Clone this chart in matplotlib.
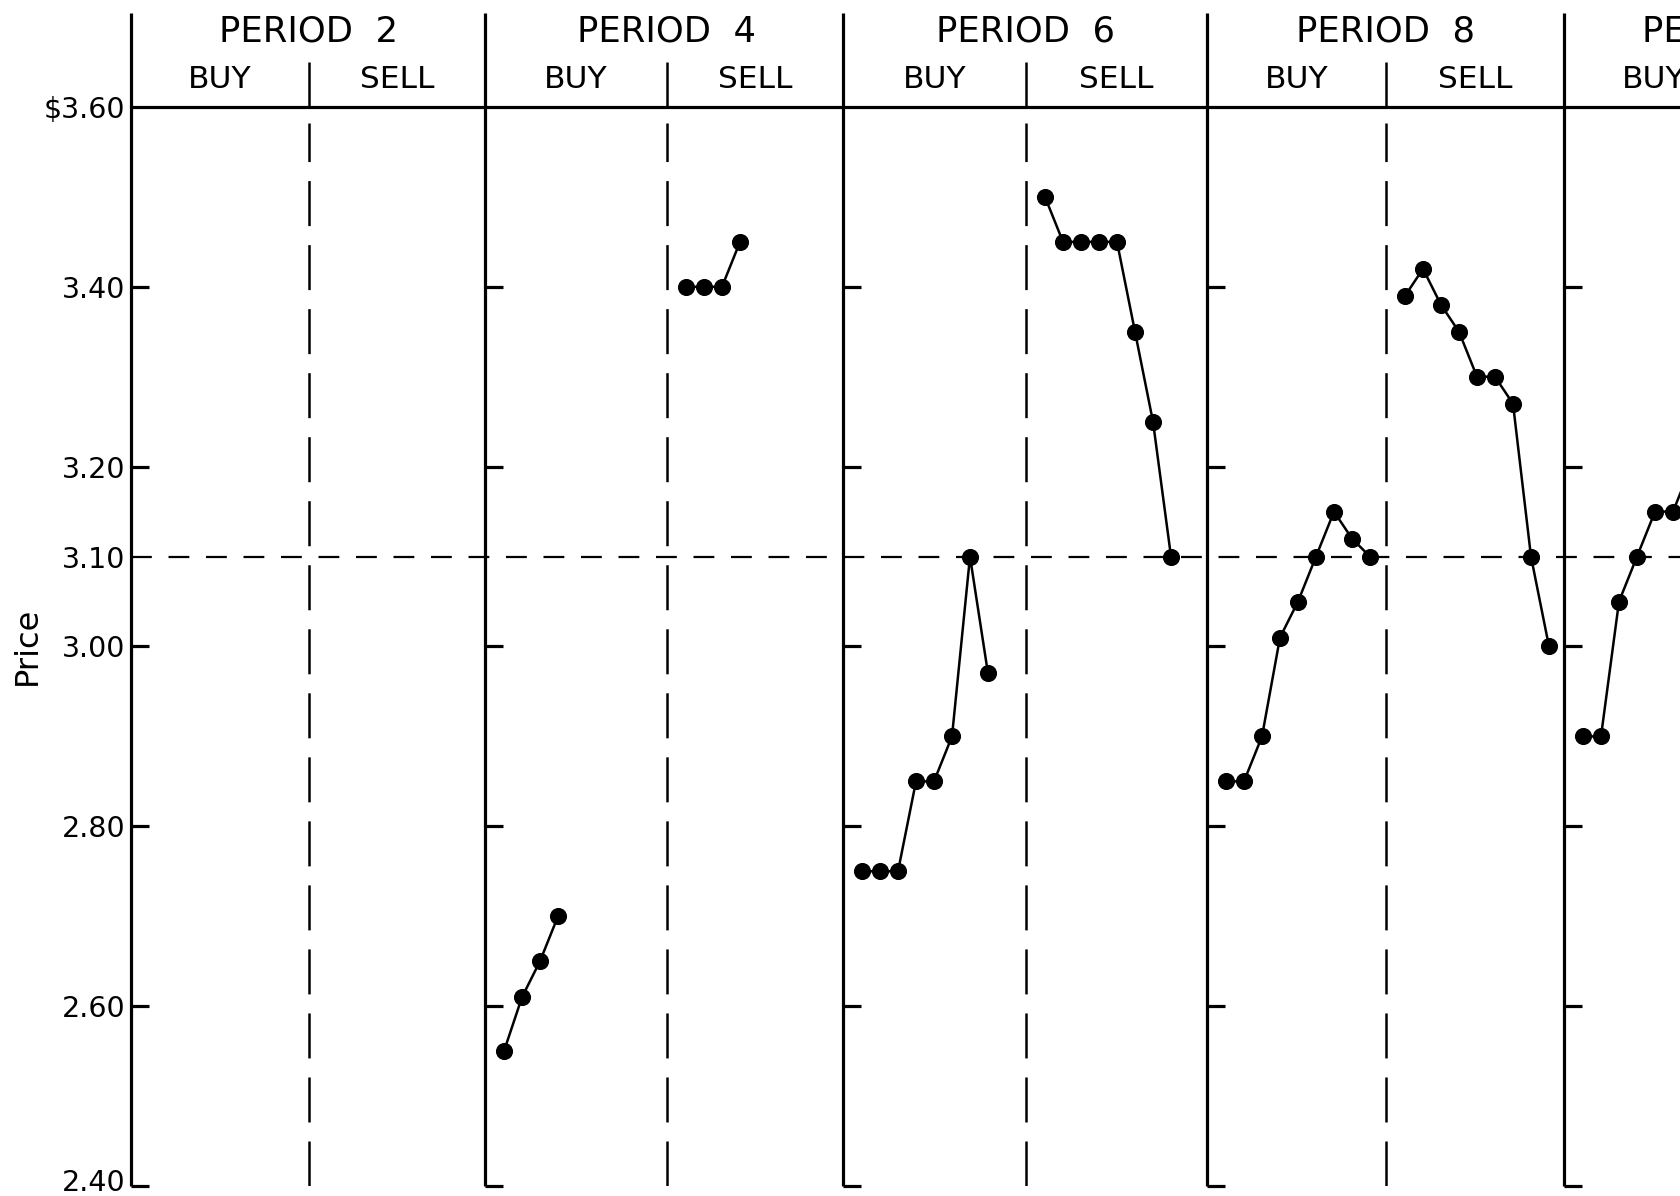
import numpy as np
import matplotlib
matplotlib.use("Agg")
import matplotlib.pyplot as plt
from matplotlib.transforms import blended_transform_factory, ScaledTranslation

# Period headers and the two sides of each market period
periods = ["PERIOD  2", "PERIOD  4", "PERIOD  6", "PERIOD  8", "PERIOD  10"]
sides = ["BUY", "SELL"]

# Contract prices in order of execution, per period and side
buy_prices = [
    [],
    [2.55, 2.61, 2.65, 2.70],
    [2.75, 2.75, 2.75, 2.85, 2.85, 2.90, 3.10, 2.97],
    [2.85, 2.85, 2.90, 3.01, 3.05, 3.10, 3.15, 3.12, 3.10],
    [2.90, 2.90, 3.05, 3.10, 3.15, 3.15, 3.20],
]
sell_prices = [
    [],
    [3.40, 3.40, 3.40, 3.45],
    [3.50, 3.45, 3.45, 3.45, 3.45, 3.35, 3.25, 3.10],
    [3.39, 3.42, 3.38, 3.35, 3.30, 3.30, 3.27, 3.10, 3.00],
    [],
]

tick_values = [3.60, 3.40, 3.20, 3.10, 3.00, 2.80, 2.60, 2.40]
tick_labels = ["$3.60", "3.40", "3.20", "3.10", "3.00", "2.80", "2.60", "2.40"]
level_ticks = [3.40, 3.20, 3.00, 2.80, 2.60, 2.40]
equilibrium = 3.10
y_min, y_max = 2.40, 3.60

plt.rcParams["lines.scale_dashes"] = False
plt.rcParams["font.family"] = ["DejaVu Sans"]

W_PX, H_PX = 1681, 1196
fig = plt.figure(figsize=(W_PX / 100, H_PX / 100), dpi=100)

# layout in pixels: x axis runs in pixel units measured from the left axis
left_px, top_px, bottom_px = 131, 107, 1186
panel_left = [0, 354, 712, 1076, 1433]
panel_split = [178, 536, 895, 1255, 1612]
panel_right = panel_left[1:] + [1791]

ax = fig.add_axes([left_px / W_PX, 1 - bottom_px / H_PX,
                   1 - left_px / W_PX, (bottom_px - top_px) / H_PX])
x_max = W_PX - left_px
ax.set_xlim(0, x_max)
ax.set_ylim(y_min, y_max)
for s in ax.spines.values():
    s.set_visible(False)
ax.set_xticks([])
ax.set_yticks(tick_values)
ax.set_yticklabels(tick_labels, fontsize=20.5)
ax.tick_params(axis="y", length=0, pad=4)

# lift the bottom label slightly so it sits on the foot of the axis
lowest = ax.get_yticklabels()[-1]
lowest.set_transform(lowest.get_transform()
                     + ScaledTranslation(0, 6 / 100, fig.dpi_scale_trans))

axis_h = bottom_px - top_px
def yfrac(px):
    return (bottom_px - px) / axis_h

blend = blended_transform_factory(ax.transData, ax.transAxes)
frame_lw = 2.3
line_lw = 1.8

# Top rule at $3.60
ax.hlines(y_max, 0, x_max, color="black", lw=frame_lw, clip_on=False)

# Equilibrium price reference line
ax.hlines(equilibrium, 0, x_max, color="black", lw=1.6,
          linestyles=[(0, (15.0, 12.0))], zorder=1)

tick_len = 18
for k in range(len(periods)):
    x0, xs_, x1 = panel_left[k], panel_split[k], panel_right[k]
    # solid divider between periods
    ax.vlines(x0, 0, yfrac(13), transform=blend, color="black",
              lw=frame_lw, clip_on=False)
    # level ticks and bottom foot
    ax.hlines(level_ticks, x0, x0 + tick_len, color="black", lw=frame_lw,
              clip_on=False)
    # buy / sell separator: solid in header, dashed in the plot body
    ax.vlines(xs_, 1.0, yfrac(62), transform=blend, color="black",
              lw=1.8, clip_on=False)
    ax.vlines(xs_, y_min, y_max - 16 / 899, color="black", lw=1.8,
              linestyles=[(0, (32.4, 13.7))], zorder=1)
    # headers
    ax.text(xs_, yfrac(32), periods[k], transform=blend, ha="center",
            va="center", fontsize=25.5, clip_on=False)
    ax.text((x0 + xs_) / 2, yfrac(80), sides[0], transform=blend,
            ha="center", va="center", fontsize=22.5, clip_on=False)
    ax.text((xs_ + x1) / 2, yfrac(80), sides[1], transform=blend,
            ha="center", va="center", fontsize=22.5, clip_on=False)

# Contract price sequences, one point per contract in trading order
step = 18.0
first = 19.0
for k in range(len(periods)):
    for start, prices in ((panel_left[k], buy_prices[k]),
                          (panel_split[k], sell_prices[k])):
        if not prices:
            continue
        xs = start + first + step * np.arange(len(prices))
        ax.plot(xs, prices, "-o", color="black", lw=line_lw, ms=11.3,
                zorder=3)

fig.text(27 / W_PX, 1 - 646 / H_PX, "Price", rotation=90, ha="center",
         va="center", fontsize=23)

fig.savefig("out.png", dpi=100, facecolor="white")
